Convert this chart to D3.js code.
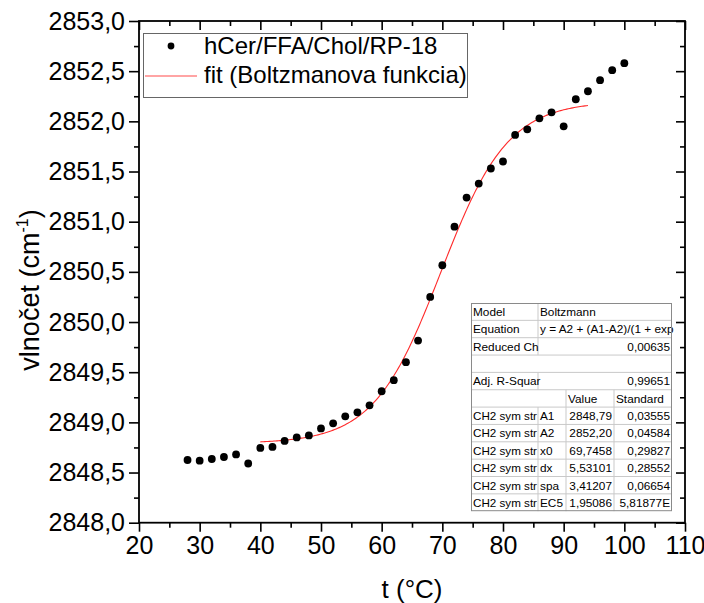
<!DOCTYPE html>
<html>
<head>
<meta charset="utf-8">
<script src="https://cdn.jsdelivr.net/npm/d3@7"></script>
<style>
  html, body { margin: 0; padding: 0; background: #fff; }
  svg { display: block; font-family: Arial, "Liberation Sans", sans-serif; }
</style>
</head>
<body>
<svg id="chart" width="704" height="603"></svg>
<script>
// Measured temperatures (°C) and CH2 symmetric stretching wavenumbers (cm-1)
const temperatures = [28, 30, 32, 34, 36, 38, 40, 42, 44, 46, 48, 50, 52, 54, 56, 58, 60, 62, 64, 66, 68,
  70, 72, 74, 76, 78, 80, 82, 84, 86, 88, 90, 92, 94, 96, 98, 100];
const wavenumbers = [2848.625, 2848.618, 2848.635, 2848.655, 2848.68, 2848.59, 2848.745, 2848.755, 2848.815,
  2848.85, 2848.87, 2848.94, 2848.99, 2849.06, 2849.10, 2849.17, 2849.31, 2849.42, 2849.60, 2849.815, 2850.25,
  2850.566, 2850.95, 2851.24, 2851.38, 2851.53, 2851.60, 2851.865, 2851.92, 2852.03, 2852.09, 2851.95,
  2852.22, 2852.30, 2852.41, 2852.51, 2852.58];

// Boltzmann fit parameters: A1, A2, x0, dx, and the fitted temperature range
const fitParams = { A1: 2848.79, A2: 2852.20, x0: 69.7458, dx: 5.53101 };
const fitRange = [40, 94];

// Axis ticks
const xMajorTicks = [20, 30, 40, 50, 60, 70, 80, 90, 100, 110];
const xMinorTicks = [25, 35, 45, 55, 65, 75, 85, 95, 105];
const yMajorTicks = [2848.0, 2848.5, 2849.0, 2849.5, 2850.0, 2850.5, 2851.0, 2851.5, 2852.0, 2852.5, 2853.0];
const yMinorTicks = [2848.25, 2848.75, 2849.25, 2849.75, 2850.25, 2850.75, 2851.25, 2851.75, 2852.25, 2852.75];

// Legend entries
const legendLabels = ["hCer/FFA/Chol/RP-18", "fit (Boltzmanova funkcia)"];

// Fit results table
const tableHead = [
  ["Model", "Boltzmann"],
  ["Equation", "y = A2 + (A1-A2)/(1 + exp"],
  ["Reduced Ch", "0,00635"],
  ["", ""],
  ["Adj. R-Squar", "0,99651"]
];
const paramHeader = ["", "", "Value", "Standard"];
const paramNames = ["A1", "A2", "x0", "dx", "spa", "EC5"];
const paramValues = ["2848,79", "2852,20", "69,7458", "5,53101", "3,41207", "1,95086"];
const paramErrors = ["0,03555", "0,04584", "0,29827", "0,28552", "0,06654", "5,81877E"];
const seriesName = "CH2 sym str";

const svg = d3.select("#chart");
const plotLeft = 139, plotRight = 685, plotTop = 21, plotBottom = 522.7;

const x = d3.scaleLinear().domain([20, 110]).range([plotLeft, plotRight]);
const y = d3.scaleLinear().domain([2848, 2853]).range([plotBottom, plotTop]);
const fmtY = v => d3.format(".1f")(v).replace(".", ",");

const tickFont = 25;
const axisColor = "#000";

// Axes: outward ticks on bottom/left, inward ticks on top/right
function drawAxis(g, axis) { g.call(axis); g.select(".domain").remove(); }

const bottomAxis = svg.append("g").attr("transform", `translate(0,${plotBottom})`);
drawAxis(bottomAxis, d3.axisBottom(x).tickValues(xMajorTicks).tickSize(9).tickPadding(5).tickFormat(d3.format("d")));
const bottomMinor = svg.append("g").attr("transform", `translate(0,${plotBottom})`);
drawAxis(bottomMinor, d3.axisBottom(x).tickValues(xMinorTicks).tickSize(5).tickFormat(""));

const leftAxis = svg.append("g").attr("transform", `translate(${plotLeft},0)`);
drawAxis(leftAxis, d3.axisLeft(y).tickValues(yMajorTicks).tickSize(10).tickPadding(4).tickFormat(fmtY));
const leftMinor = svg.append("g").attr("transform", `translate(${plotLeft},0)`);
drawAxis(leftMinor, d3.axisLeft(y).tickValues(yMinorTicks).tickSize(5).tickFormat(""));

const topAxis = svg.append("g").attr("transform", `translate(0,${plotTop})`);
drawAxis(topAxis, d3.axisBottom(x).tickValues(xMajorTicks).tickSize(9).tickFormat(""));
const topMinor = svg.append("g").attr("transform", `translate(0,${plotTop})`);
drawAxis(topMinor, d3.axisBottom(x).tickValues(xMinorTicks).tickSize(5).tickFormat(""));

const rightAxis = svg.append("g").attr("transform", `translate(${plotRight},0)`);
drawAxis(rightAxis, d3.axisLeft(y).tickValues(yMajorTicks).tickSize(9).tickFormat(""));
const rightMinor = svg.append("g").attr("transform", `translate(${plotRight},0)`);
drawAxis(rightMinor, d3.axisLeft(y).tickValues(yMinorTicks).tickSize(5).tickFormat(""));

svg.selectAll(".tick line").attr("stroke", axisColor).attr("stroke-width", 1.6);
svg.selectAll(".tick text").attr("fill", "#000").attr("font-size", tickFont).attr("font-family", "Arial, 'Liberation Sans', sans-serif");

// Frame
svg.append("rect")
  .attr("x", plotLeft).attr("y", plotTop)
  .attr("width", plotRight - plotLeft).attr("height", plotBottom - plotTop)
  .attr("fill", "none").attr("stroke", axisColor).attr("stroke-width", 1.8);

// Axis titles
svg.append("text")
  .attr("x", (plotLeft + plotRight) / 2).attr("y", 598)
  .attr("text-anchor", "middle").attr("font-size", 26)
  .text("t (°C)");

const yTitle = svg.append("text")
  .attr("transform", `translate(39,290) rotate(-90)`)
  .attr("text-anchor", "middle").attr("font-size", 27);
yTitle.append("tspan").text("vlnočet (cm");
yTitle.append("tspan").attr("font-size", 16).attr("dy", -11).text("-1");
yTitle.append("tspan").attr("dy", 11).text(")");

// Boltzmann fit curve
const boltz = t => fitParams.A2 + (fitParams.A1 - fitParams.A2) / (1 + Math.exp((t - fitParams.x0) / fitParams.dx));
const fitX = d3.range(fitRange[0], fitRange[1] + 0.001, 0.25);
svg.append("path")
  .datum(fitX)
  .attr("fill", "none").attr("stroke", "#ff2a2a").attr("stroke-width", 1.1)
  .attr("d", d3.line().x(t => x(t)).y(t => y(boltz(t))));

// Data points
svg.append("g").selectAll("circle")
  .data(temperatures.map((t, i) => [t, wavenumbers[i]]))
  .join("circle")
  .attr("cx", d => x(d[0])).attr("cy", d => y(d[1]))
  .attr("r", 3.9).attr("fill", "#000");

// Legend
const lg = svg.append("g");
lg.append("rect").attr("x", 143.5).attr("y", 33.5).attr("width", 324).attr("height", 64)
  .attr("fill", "#fff").attr("stroke", "#666").attr("stroke-width", 1);
lg.append("circle").attr("cx", 171).attr("cy", 46).attr("r", 3.4).attr("fill", "#000");
lg.append("line").attr("x1", 145).attr("x2", 197).attr("y1", 76).attr("y2", 76)
  .attr("stroke", "#ff4a4a").attr("stroke-width", 1.1);
lg.selectAll("text.lab").data(legendLabels).join("text")
  .attr("class", "lab")
  .attr("x", 204).attr("y", (d, i) => 54 + i * 29)
  .attr("font-size", 24).text(d => d);

// Fit results table
const tx = 471, tw = 201, ty = 303, rowH = 17.35;
const c1 = 538, c2 = 566, c3 = 614;
const tg = svg.append("g").attr("font-size", 11.8);
const nRows = tableHead.length + 1 + paramNames.length;
tg.append("rect").attr("x", tx).attr("y", ty).attr("width", tw).attr("height", rowH * nRows)
  .attr("fill", "#fff");
const gridColor = "#c9c9c9";
for (let r = 1; r < nRows; r++) {
  tg.append("line").attr("x1", tx).attr("x2", tx + tw)
    .attr("y1", ty + r * rowH).attr("y2", ty + r * rowH)
    .attr("stroke", gridColor).attr("stroke-width", 1);
}
// Summary rows
tableHead.forEach((row, r) => {
  const yy = ty + r * rowH;
  if (row[0] !== "" || row[1] !== "") {
    tg.append("line").attr("x1", c1).attr("x2", c1).attr("y1", yy).attr("y2", yy + rowH)
      .attr("stroke", gridColor);
  }
  tg.append("text").attr("x", tx + 2).attr("y", yy + 13).text(row[0]);
  const numeric = /^[0-9]/.test(row[1]);
  tg.append("text")
    .attr("x", numeric ? tx + tw - 2 : c1 + 2).attr("y", yy + 13)
    .attr("text-anchor", numeric ? "end" : "start").text(row[1]);
});
// Column header row and parameter rows
const pStart = tableHead.length;
for (let r = pStart; r < nRows; r++) {
  const yy = ty + r * rowH;
  [c1, c2, c3].forEach(cx => {
    if (r === pStart && cx === c1) return;
    tg.append("line").attr("x1", cx).attr("x2", cx).attr("y1", yy).attr("y2", yy + rowH)
      .attr("stroke", gridColor);
  });
}
tg.append("text").attr("x", c2 + 2).attr("y", ty + pStart * rowH + 13).text(paramHeader[2]);
tg.append("text").attr("x", c3 + 2).attr("y", ty + pStart * rowH + 13).text(paramHeader[3]);
paramNames.forEach((p, i) => {
  const yy = ty + (pStart + 1 + i) * rowH + 13;
  tg.append("text").attr("x", tx + 2).attr("y", yy).attr("textLength", 64).attr("lengthAdjust", "spacingAndGlyphs").text(seriesName);
  tg.append("text").attr("x", c1 + 2).attr("y", yy).text(p);
  tg.append("text").attr("x", c3 - 2).attr("y", yy).attr("text-anchor", "end").text(paramValues[i]);
  tg.append("text").attr("x", tx + tw - 2).attr("y", yy).attr("text-anchor", "end").text(paramErrors[i]);
});
tg.append("rect").attr("x", tx + 0.5).attr("y", ty + 0.5).attr("width", tw - 1).attr("height", rowH * nRows - 1)
  .attr("fill", "none").attr("stroke", "#8a8a8a").attr("stroke-width", 1);
</script>
</body>
</html>
